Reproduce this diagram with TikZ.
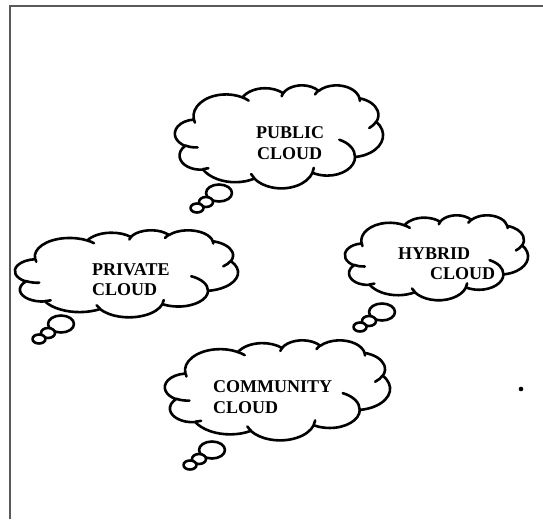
\documentclass[tikz,border=0pt]{standalone}
\usepackage{fontspec}
\setmainfont{Liberation Serif}
\pgfmathdeclarefunction{vtp}{3}{\pgfmathparse{atan2(#1*sin(#3),#2*cos(#3))}}
\tikzset{
  carc/.style n args={4}{insert path={arc[x radius=#1, y radius=#2,
     start angle={vtp(#1,#2,#3)},
     end angle={vtp(#1,#2,#3)+mod(vtp(#1,#2,#3+#4)-vtp(#1,#2,#3)+720,360)}]}},
  cloudline/.style={line width=2.6pt, line join=round, line cap=round, draw=black},
  lbl/.style={anchor=base west, inner sep=0pt, font=\fontsize{18}{20}\selectfont\bfseries}
}
% #1 name, #2 x0, #3 y0, #4 w, #5 h, #6 big bubble centre
\newcommand{\wordcloud}[6]{%
  \pgfmathsetmacro\cxu{#4/432}\pgfmathsetmacro\cyu{#5/432}%
  \coordinate (#1) at ({#2+#4/2},{#3+#5/2});
  \begin{scope}[shift={(#2,#3)}, x=\cxu pt, y=-\cyu pt]
    \draw[cloudline, fill=white] (39.00,143.70)
      [carc={67.53}{91.90}{-190.4875}{123.7805}]
      [carc={53.33}{72.67}{-144.1024}{89.9452}]
      [carc={43.65}{59.45}{-145.8079}{99.7230}]
      [carc={48.57}{65.95}{-130.9861}{117.2417}]
      [carc={53.33}{72.73}{-78.7089}{109.0269}]
      [carc={67.75}{92.20}{-46.2673}{130.2690}]
      [carc={57.85}{78.67}{0.6250}{114.0333}]
      [carc={67.52}{92.15}{22.4516}{115.1726}]
      [carc={77.20}{105.43}{66.2426}{75.7110}]
      [carc={43.60}{59.18}{-274.9421}{146.7356}]
      [carc={43.45}{59.45}{-246.8285}{152.5189}] -- cycle;
    \draw[cloudline]
      (46.93,261.77) [carc={43.45}{59.45}{86.7420}{26.4295}]
      (69.28,348.99) [carc={43.60}{59.18}{73.6105}{11.4475}]
      (164.78,390.90) [carc={67.52}{92.15}{137.6242}{14.0811}]
      (288.27,347.51) [carc={67.52}{92.15}{6.4533}{15.9984}]
      (341.29,229.54) [carc={57.85}{78.67}{-70.2924}{70.9174}]
      (417.98,153.54) [carc={53.33}{72.73}{30.3180}{27.7515}]
      (383.24,54.26) [carc={48.57}{65.95}{-13.7443}{14.8534}]
      (290.78,39.52) [carc={48.57}{65.95}{-149.1815}{18.1954}]
      (221.41,47.20) [carc={43.65}{59.45}{-163.4943}{17.6864}]
      (140.00,51.92) [carc={67.53}{91.90}{-66.7070}{12.3194}]
      (41.27,157.89) [carc={67.53}{91.90}{162.0476}{9.4735}];
  \end{scope}
  \draw[cloudline, fill=white] #6 ellipse[x radius=13, y radius=8.5];
  \draw[cloudline, fill=white] #6 ++(-13,9) ellipse[x radius=7, y radius=5];
  \draw[cloudline, fill=white] #6 ++(-22,15) ellipse[x radius=6.5, y radius=4.5];
}
\begin{document}
\begin{tikzpicture}[x=1pt,y=-1pt]
\useasboundingbox (0,0) rectangle (543,519);
\draw[line width=2pt, gray!70!black] (10,519) -- (10,6) -- (543,6);
\wordcloud{public}{175}{85}{208}{103}{(219,193)}
\wordcloud{private}{15}{230}{223}{87}{(61,324)}
\wordcloud{hybrid}{345}{215}{183}{85}{(382,312)}
\wordcloud{community}{165}{340}{225}{100}{(212,450)}
% labels
\node[lbl] (pub1) at (256,138) {PUBLIC};
\node[lbl] (pub2) at (257,159) {CLOUD};
\node[lbl] (pri1) at (92,275) {PRIVATE};
\node[lbl] (pri2) at (92,295) {CLOUD};
\node[lbl] (hyb1) at (398,259) {HYBRID};
\node[lbl] (hyb2) at (430,279) {CLOUD};
\node[lbl] (com1) at (213,392) {COMMUNITY};
\node[lbl] (com2) at (213,413) {CLOUD};
\fill (521,389) circle (2.3pt);
\end{tikzpicture}
\end{document}
